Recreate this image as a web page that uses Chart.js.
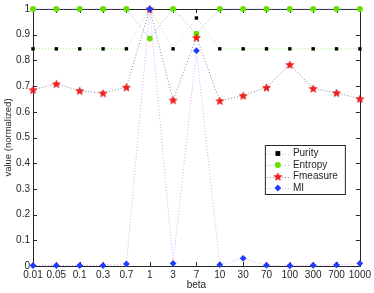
<!DOCTYPE html>
<html>
<head>
<meta charset="utf-8">
<script src="https://cdn.jsdelivr.net/npm/chart.js@4/dist/chart.umd.min.js"></script>
<style>
  html, body { margin: 0; padding: 0; background: #fff; }
  #wrap { width: 374px; height: 293px; position: relative; }
</style>
</head>
<body>
<div id="wrap"><canvas id="chart"></canvas></div>
<script>
const betas = ['0.01', '0.05', '0.1', '0.3', '0.7', '1', '3', '7', '10', '30', '70', '100', '300', '700', '1000'];
const purity = [0.845, 0.845, 0.845, 0.845, 0.845, 1.0, 0.845, 0.965, 0.845, 0.845, 0.845, 0.845, 0.845, 0.845, 0.845];
const entropy = [1.0, 1.0, 1.0, 1.0, 1.0, 0.885, 1.0, 0.904, 1.0, 1.0, 1.0, 1.0, 1.0, 1.0, 1.0];
const fmeasure = [0.686, 0.709, 0.682, 0.673, 0.696, 1.0, 0.646, 0.889, 0.643, 0.663, 0.695, 0.784, 0.691, 0.674, 0.651];
const mi = [0.002, 0.002, 0.002, 0.002, 0.008, 1.0, 0.01, 0.838, 0.005, 0.03, 0.003, 0.001, 0.003, 0.004, 0.01];
const yTicks = [0, 0.1, 0.2, 0.3, 0.4, 0.5, 0.6, 0.7, 0.8, 0.9, 1];

const FONT = "'Liberation Sans', Arial, sans-serif";
const INK = '#262626';

// filled five point star, chart.js 'star' is only an asterisk
function makeStar(r, fill, stroke) {
  const s = Math.ceil(r * 2 + 2);
  const cv = document.createElement('canvas');
  cv.width = s;
  cv.height = s;
  const g = cv.getContext('2d');
  const cx = s / 2, cy = s / 2 + 0.5;
  g.beginPath();
  for (let i = 0; i < 10; i++) {
    const rr = i % 2 === 0 ? r : r * 0.42;
    const a = -Math.PI / 2 + i * Math.PI / 5;
    const px = cx + rr * Math.cos(a), py = cy + rr * Math.sin(a);
    if (i === 0) g.moveTo(px, py); else g.lineTo(px, py);
  }
  g.closePath();
  g.fillStyle = fill;
  g.fill();
  g.strokeStyle = stroke;
  g.lineWidth = 0.6;
  g.stroke();
  return cv;
}

const starImg = makeStar(4.1, '#ff1a1a', '#cc0000');

const series = [
  { label: 'Purity', data: purity, line: '#9cf27a', mark: '#000000', style: 'rect', radius: 2.4, order: 3 },
  { label: 'Entropy', data: entropy, line: '#9aa6ff', mark: '#66e000', style: 'circle', radius: 3, order: 2 },
  { label: 'Fmeasure', data: fmeasure, line: '#8a8a8a', mark: '#ff1a1a', style: starImg, radius: 4.1, order: 1 },
  { label: 'MI', data: mi, line: '#e2a2ff', mark: '#1f3dff', style: 'rectRot', radius: 3.4, order: 0 },
];

function drawMarker(ctx, s, x, y) {
  ctx.save();
  ctx.fillStyle = s.mark;
  if (s.style === 'rect') {
    ctx.fillRect(x - s.radius, y - s.radius, s.radius * 2, s.radius * 2);
  } else if (s.style === 'circle') {
    ctx.beginPath();
    ctx.arc(x, y, s.radius, 0, Math.PI * 2);
    ctx.fill();
  } else if (s.style === 'rectRot') {
    ctx.beginPath();
    ctx.moveTo(x, y - s.radius);
    ctx.lineTo(x + s.radius, y);
    ctx.lineTo(x, y + s.radius);
    ctx.lineTo(x - s.radius, y);
    ctx.closePath();
    ctx.fill();
  } else {
    ctx.drawImage(s.style, x - s.style.width / 2, y - s.style.height / 2);
  }
  ctx.restore();
}

// matlab style box with inward ticks on all four sides
const boxPlugin = {
  id: 'box',
  beforeDatasetsDraw(chart) {
    const { ctx, chartArea: a, scales } = chart;
    ctx.save();
    ctx.strokeStyle = INK;
    ctx.lineWidth = 1;
    ctx.strokeRect(Math.round(a.left) + 0.5, Math.round(a.top) + 0.5,
      Math.round(a.right - a.left), Math.round(a.bottom - a.top));
    ctx.beginPath();
    yTicks.forEach((v) => {
      const y = Math.round(scales.y.getPixelForValue(v)) + 0.5;
      ctx.moveTo(a.left, y); ctx.lineTo(a.left + 4, y);
      ctx.moveTo(a.right, y); ctx.lineTo(a.right - 4, y);
    });
    betas.forEach((b, i) => {
      const x = Math.round(scales.x.getPixelForValue(i)) + 0.5;
      ctx.moveTo(x, a.bottom); ctx.lineTo(x, a.bottom - 4);
      ctx.moveTo(x, a.top); ctx.lineTo(x, a.top + 4);
    });
    ctx.stroke();
    ctx.restore();
  },
  afterDraw(chart) {
    const { ctx, chartArea: a } = chart;
    const bx = a.right - 95, by = a.top + 136, bw = 80, bh = 49;
    ctx.save();
    ctx.fillStyle = '#fff';
    ctx.fillRect(bx, by, bw, bh);
    ctx.strokeStyle = INK;
    ctx.lineWidth = 1;
    ctx.strokeRect(bx + 0.5, by + 0.5, bw, bh);
    ctx.font = '10px ' + FONT;
    ctx.textBaseline = 'middle';
    series.forEach((s, i) => {
      const y = by + 8.5 + i * 11.5;
      ctx.strokeStyle = s.line;
      ctx.setLineDash([1, 2]);
      ctx.beginPath();
      ctx.moveTo(bx + 2, Math.round(y) + 0.5);
      ctx.lineTo(bx + 24, Math.round(y) + 0.5);
      ctx.stroke();
      ctx.setLineDash([]);
      drawMarker(ctx, s, bx + 13, y);
      ctx.fillStyle = INK;
      ctx.fillText(s.label, bx + 28, y);
    });
    ctx.restore();
  },
};

new Chart(document.getElementById('chart'), {
  type: 'line',
  data: {
    labels: betas,
    datasets: series.map((s) => ({
      label: s.label,
      data: s.data,
      order: s.order,
      borderColor: s.line,
      borderWidth: 1,
      borderDash: [1, 2],
      pointStyle: s.style,
      pointRadius: s.radius,
      pointBackgroundColor: s.mark,
      pointBorderColor: s.mark,
      pointBorderWidth: 0,
      tension: 0,
      clip: false,
    })),
  },
  options: {
    responsive: true,
    maintainAspectRatio: false,
    animation: false,
    layout: { padding: { top: 8, right: 13, left: 0, bottom: 0 } },
    plugins: { legend: { display: false }, tooltip: { enabled: false } },
    scales: {
      x: {
        offset: false,
        grid: { display: false, drawTicks: false },
        border: { display: false },
        ticks: { color: INK, font: { family: FONT, size: 10 }, padding: 3, maxRotation: 0, autoSkip: false },
        title: { display: true, text: 'beta', color: INK, font: { family: FONT, size: 10 }, padding: { top: 0, bottom: 2 } },
        afterFit: (sc) => { sc.height = 27; },
      },
      y: {
        min: 0,
        max: 1,
        grid: { display: false, drawTicks: false },
        border: { display: false },
        afterBuildTicks: (sc) => { sc.ticks = yTicks.map((v) => ({ value: v })); },
        ticks: { color: INK, font: { family: FONT, size: 10 }, padding: 3, callback: (v) => String(Math.round(v * 10) / 10) },
        title: { display: true, text: 'value (normalized)', color: INK, font: { family: FONT, size: 9.5 }, padding: { top: 3, bottom: 0 } },
        afterFit: (sc) => { sc.width = 33; },
      },
    },
  },
  plugins: [boxPlugin],
});
</script>
</body>
</html>
